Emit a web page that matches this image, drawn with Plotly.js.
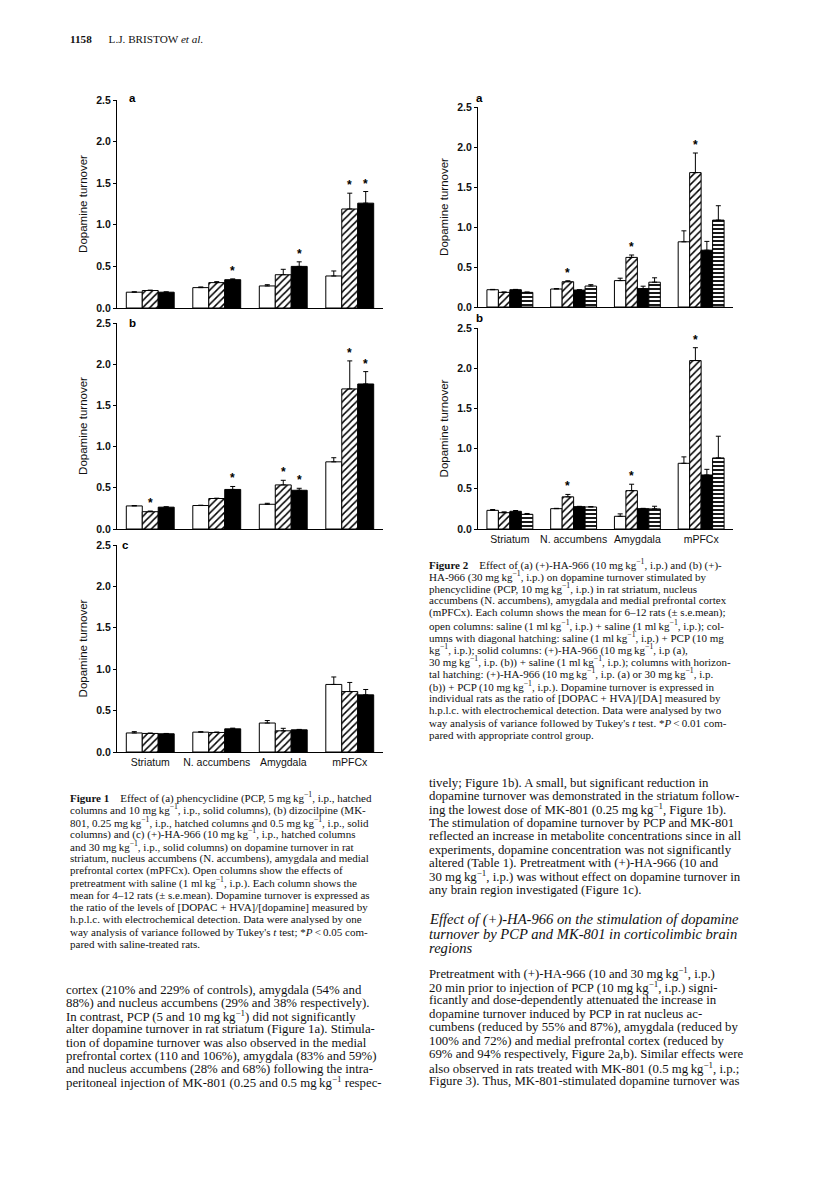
<!DOCTYPE html>
<html>
<head>
<meta charset="utf-8">
<script src="https://cdn.plot.ly/plotly-3.0.1.min.js"></script>
<style>
  html, body { margin: 0; padding: 0; background: #fff; }
  #page { width: 816px; height: 1177px; }
</style>
</head>
<body>
<div id="page"></div>
<script>
// Dopamine turnover — Figures 1 and 2 on one journal page
const regions = ["Striatum", "N. accumbens", "Amygdala", "mPFCx"];
const yTicks = [0, 0.5, 1.0, 1.5, 2.0, 2.5];

// Figure 1a: saline / PCP 5 / PCP 10
const f1aSaline = [0.19, 0.245, 0.265, 0.385];
const f1aSalineErr = [0.005, 0.008, 0.015, 0.06];
const f1aLow = [0.21, 0.305, 0.40, 1.19];
const f1aLowErr = [0.005, 0.012, 0.065, 0.19];
const f1aLowSig = [0, 0, 0, 1];
const f1aHigh = [0.19, 0.34, 0.50, 1.26];
const f1aHighErr = [0.004, 0.01, 0.055, 0.14];
const f1aHighSig = [0, 1, 1, 1];

// Figure 1b: saline / MK-801 0.25 / MK-801 0.5
const f1bSaline = [0.28, 0.285, 0.30, 0.815];
const f1bSalineErr = [0.005, 0.004, 0.012, 0.05];
const f1bLow = [0.21, 0.37, 0.535, 1.70];
const f1bLowErr = [0.008, 0.004, 0.056, 0.34];
const f1bLowSig = [1, 0, 1, 1];
const f1bHigh = [0.265, 0.48, 0.47, 1.76];
const f1bHighErr = [0.005, 0.036, 0.024, 0.15];
const f1bHighSig = [0, 1, 1, 1];

// Figure 1c: saline / (+)-HA-966 10 / 30
const f1cSaline = [0.23, 0.24, 0.35, 0.816];
const f1cSalineErr = [0.016, 0.005, 0.03, 0.09];
const f1cLow = [0.224, 0.236, 0.256, 0.73];
const f1cLowErr = [0.005, 0.005, 0.03, 0.11];
const f1cHigh = [0.22, 0.28, 0.268, 0.69];
const f1cHighErr = [0.004, 0.008, 0.005, 0.065];

// Figure 2a: sal+sal / sal+PCP / HA+sal / HA+PCP  (HA-966 10 mg/kg)
const f2aOpen = [0.216, 0.225, 0.33, 0.815];
const f2aOpenErr = [0.004, 0.005, 0.03, 0.137];
const f2aPcp = [0.183, 0.316, 0.62, 1.68];
const f2aPcpErr = [0.005, 0.012, 0.03, 0.245];
const f2aPcpSig = [0, 1, 1, 1];
const f2aHa = [0.216, 0.212, 0.23, 0.71];
const f2aHaErr = [0.004, 0.004, 0.03, 0.11];
const f2aHaPcp = [0.183, 0.262, 0.31, 1.086];
const f2aHaPcpErr = [0.004, 0.017, 0.055, 0.18];

// Figure 2b: same groups, HA-966 30 mg/kg
const f2bOpen = [0.232, 0.253, 0.158, 0.817];
const f2bOpenErr = [0.01, 0.004, 0.03, 0.08];
const f2bPcp = [0.203, 0.40, 0.477, 2.095];
const f2bPcpErr = [0.01, 0.03, 0.08, 0.16];
const f2bPcpSig = [0, 1, 1, 1];
const f2bHa = [0.22, 0.278, 0.253, 0.672];
const f2bHaErr = [0.01, 0.004, 0.004, 0.07];
const f2bHaPcp = [0.183, 0.274, 0.25, 0.884];
const f2bHaPcpErr = [0.01, 0.004, 0.033, 0.27];

const W = 816, H = 1177;
const BARGAP = 0.28;
const px = x => x / W;
const py = y => 1 - y / H;

const fills = {
  open:  { color: "#fff" },
  diag:  { color: "#fff", pattern: { shape: "/", fgcolor: "#000", bgcolor: "#fff", size: 5, solidity: 0.3 } },
  solid: { color: "#000" },
  horiz: { color: "#fff", pattern: { shape: "-", fgcolor: "#000", bgcolor: "#fff", size: 4, solidity: 0.45 } }
};

const traces = [];
const annotations = [];

function panel(ax, series) {
  const n = series.length;
  const gw = 1 - BARGAP;
  const bw = gw / n;
  series.forEach((s, j) => {
    traces.push({
      type: "bar",
      x: regions.map((_, i) => i),
      y: s.y,
      xaxis: ax === 1 ? "x" : "x" + ax,
      yaxis: ax === 1 ? "y" : "y" + ax,
      marker: Object.assign({ line: { color: "#000", width: 1 } }, fills[s.fill]),
      error_y: {
        type: "data", symmetric: false, array: s.err, arrayminus: s.err.map(() => 0),
        color: "#000", thickness: 1, width: 2.5
      },
      hoverinfo: "none",
      showlegend: false
    });
    if (!s.sig) return;
    const off = -gw / 2 + (j + 0.5) * bw;
    s.sig.forEach((flag, i) => {
      if (!flag) return;
      annotations.push({
        xref: ax === 1 ? "x" : "x" + ax,
        yref: ax === 1 ? "y" : "y" + ax,
        x: i + off, y: s.y[i] + s.err[i],
        text: "*", showarrow: false, yanchor: "bottom", yshift: -1,
        font: { family: "Liberation Sans", size: 12, color: "#000", weight: "bold" }
      });
    });
  });
}

panel(1, [
  { y: f1aSaline, err: f1aSalineErr, fill: "open" },
  { y: f1aLow, err: f1aLowErr, fill: "diag", sig: f1aLowSig },
  { y: f1aHigh, err: f1aHighErr, fill: "solid", sig: f1aHighSig }
]);
panel(2, [
  { y: f1bSaline, err: f1bSalineErr, fill: "open" },
  { y: f1bLow, err: f1bLowErr, fill: "diag", sig: f1bLowSig },
  { y: f1bHigh, err: f1bHighErr, fill: "solid", sig: f1bHighSig }
]);
panel(3, [
  { y: f1cSaline, err: f1cSalineErr, fill: "open" },
  { y: f1cLow, err: f1cLowErr, fill: "diag" },
  { y: f1cHigh, err: f1cHighErr, fill: "solid" }
]);
panel(4, [
  { y: f2aOpen, err: f2aOpenErr, fill: "open" },
  { y: f2aPcp, err: f2aPcpErr, fill: "diag", sig: f2aPcpSig },
  { y: f2aHa, err: f2aHaErr, fill: "solid" },
  { y: f2aHaPcp, err: f2aHaPcpErr, fill: "horiz" }
]);
panel(5, [
  { y: f2bOpen, err: f2bOpenErr, fill: "open" },
  { y: f2bPcp, err: f2bPcpErr, fill: "diag", sig: f2bPcpSig },
  { y: f2bHa, err: f2bHaErr, fill: "solid" },
  { y: f2bHaPcp, err: f2bHaPcpErr, fill: "horiz" }
]);

const tickFont = { family: "Liberation Sans", size: 10.5, color: "#111", weight: "bold" };

function xAxis(x0, x1, labels, anchor) {
  return {
    domain: [px(x0), px(x1)], anchor: anchor, range: [-0.5, 3.5],
    showline: true, linecolor: "#000", linewidth: 1, mirror: false,
    tickvals: [0, 1, 2, 3], ticktext: regions, showticklabels: labels, ticks: "",
    tickfont: { family: "Liberation Sans", size: 10.5, color: "#111" },
    showgrid: false, zeroline: false, fixedrange: true
  };
}
function yAxis(top, bottom, anchor) {
  return {
    domain: [py(bottom), py(top)], anchor: anchor, range: [0, 2.5],
    showline: true, linecolor: "#000", linewidth: 1,
    ticks: "outside", ticklen: 3, tickwidth: 1, tickcolor: "#000",
    tickvals: yTicks, tickformat: ".1f", tickfont: tickFont,
    showgrid: false, zeroline: false, fixedrange: true,
    title: { text: "Dopamine turnover", standoff: 6, font: { family: "Liberation Sans", size: 11.5, color: "#111" } }
  };
}

// panel letters
[["a", 132, 98], ["b", 132, 323], ["c", 125, 545], ["a", 479, 98], ["b", 479, 318]].forEach(([t, x, y]) => {
  annotations.push({
    xref: "paper", yref: "paper", x: px(x), y: py(y), text: t, showarrow: false,
    xanchor: "center", yanchor: "middle",
    font: { family: "Liberation Sans", size: 11.5, color: "#000", weight: "bold" }
  });
});

// running text, one annotation per printed line
function lines(list, x, y0, step, size, italic) {
  list.forEach((t, k) => {
    annotations.push({
      xref: "paper", yref: "paper", x: px(x), y: py(y0 + k * step),
      text: italic ? "<i>" + t + "</i>" : t, showarrow: false,
      xanchor: "left", yanchor: "middle", align: "left",
      font: { family: "Liberation Serif", size: size, color: "#111" }
    });
  });
}

const kg = "mg\u2009kg<sup>\u22121</sup>";
const ml = "ml\u2009kg<sup>\u22121</sup>";

lines(["<b>1158</b>\u2003\u2002L.J. BRISTOW <i>et al.</i>"], 68, 39, 0, 11.2);

lines([
  "<b>Figure 1</b>\u2003Effect of (a) phencyclidine (PCP, 5 " + kg + ", i.p., hatched",
  "columns and 10 " + kg + ", i.p., solid columns), (b) dizocilpine (MK-",
  "801, 0.25 " + kg + ", i.p., hatched columns and 0.5 " + kg + ", i.p., solid",
  "columns) and (c) (+)-HA-966 (10 " + kg + ", i.p., hatched columns",
  "and 30 " + kg + ", i.p., solid columns) on dopamine turnover in rat",
  "striatum, nucleus accumbens (N. accumbens), amygdala and medial",
  "prefrontal cortex (mPFCx). Open columns show the effects of",
  "pretreatment with saline (1 " + ml + ", i.p.). Each column shows the",
  "mean for 4\u201312 rats (\u00b1 s.e.mean). Dopamine turnover is expressed as",
  "the ratio of the levels of [DOPAC + HVA]/[dopamine] measured by",
  "h.p.l.c. with electrochemical detection. Data were analysed by one",
  "way analysis of variance followed by Tukey's <i>t</i> test; *<i>P</i>\u2009<\u20090.05 com-",
  "pared with saline-treated rats."
], 68, 797, 12.25, 11);

lines([
  "cortex (210% and 229% of controls), amygdala (54% and",
  "88%) and nucleus accumbens (29% and 38% respectively).",
  "In contrast, PCP (5 and 10 " + kg + ") did not significantly",
  "alter dopamine turnover in rat striatum (Figure 1a). Stimula-",
  "tion of dopamine turnover was also observed in the medial",
  "prefrontal cortex (110 and 106%), amygdala (83% and 59%)",
  "and nucleus accumbens (28% and 68%) following the intra-",
  "peritoneal injection of MK-801 (0.25 and 0.5 " + kg + " respec-"
], 64, 990, 13.15, 12.8);

lines([
  "<b>Figure 2</b>\u2003Effect of (a) (+)-HA-966 (10 " + kg + ", i.p.) and (b) (+)-",
  "HA-966 (30 " + kg + ", i.p.) on dopamine turnover stimulated by",
  "phencyclidine (PCP, 10 " + kg + ", i.p.) in rat striatum, nucleus",
  "accumbens (N. accumbens), amygdala and medial prefrontal cortex",
  "(mPFCx). Each column shows the mean for 6\u201312 rats (\u00b1 s.e.mean);",
  "open columns: saline (1 " + ml + ", i.p.) + saline (1 " + ml + ", i.p.); col-",
  "umns with diagonal hatching: saline (1 " + ml + ", i.p.) + PCP (10 mg",
  "kg<sup>\u22121</sup>, i.p.); solid columns: (+)-HA-966 (10 " + kg + ", i.p (a),",
  "30 " + kg + ", i.p. (b)) + saline (1 " + ml + ", i.p.); columns with horizon-",
  "tal hatching: (+)-HA-966 (10 " + kg + ", i.p. (a) or 30 " + kg + ", i.p.",
  "(b)) + PCP (10 " + kg + ", i.p.). Dopamine turnover is expressed in",
  "individual rats as the ratio of [DOPAC + HVA]/[DA] measured by",
  "h.p.l.c. with electrochemical detection. Data were analysed by two",
  "way analysis of variance followed by Tukey's <i>t</i> test. *<i>P</i>\u2009<\u20090.01 com-",
  "pared with appropriate control group."
], 427, 564, 12.2, 11);

lines([
  "tively; Figure 1b). A small, but significant reduction in",
  "dopamine turnover was demonstrated in the striatum follow-",
  "ing the lowest dose of MK-801 (0.25 " + kg + ", Figure 1b).",
  "The stimulation of dopamine turnover by PCP and MK-801",
  "reflected an increase in metabolite concentrations since in all",
  "experiments, dopamine concentration was not significantly",
  "altered (Table 1). Pretreatment with (+)-HA-966 (10 and",
  "30 " + kg + ", i.p.) was without effect on dopamine turnover in",
  "any brain region investigated (Figure 1c)."
], 427, 782.5, 13.4, 12.8);

lines([
  "Effect of (+)-HA-966 on the stimulation of dopamine",
  "turnover by PCP and MK-801 in corticolimbic brain",
  "regions"
], 427, 919, 14.5, 14.6, true);

lines([
  "Pretreatment with (+)-HA-966 (10 and 30 " + kg + ", i.p.)",
  "20 min prior to injection of PCP (10 " + kg + ", i.p.) signi-",
  "ficantly and dose-dependently attenuated the increase in",
  "dopamine turnover induced by PCP in rat nucleus ac-",
  "cumbens (reduced by 55% and 87%), amygdala (reduced by",
  "100% and 72%) and medial prefrontal cortex (reduced by",
  "69% and 94% respectively, Figure 2a,b). Similar effects were",
  "also observed in rats treated with MK-801 (0.5 " + kg + ", i.p.;",
  "Figure 3). Thus, MK-801-stimulated dopamine turnover was"
], 427, 973, 13.5, 12.8);

Plotly.newPlot("page", traces, {
  width: W, height: H,
  margin: { t: 0, b: 0, l: 0, r: 0 },
  paper_bgcolor: "#fff", plot_bgcolor: "rgba(0,0,0,0)",
  barmode: "group", bargap: BARGAP, bargroupgap: 0,
  showlegend: false,
  font: { family: "Liberation Sans", color: "#111" },
  xaxis: xAxis(117, 383, false, "y"),
  yaxis: yAxis(100, 308, "x"),
  xaxis2: xAxis(117, 383, false, "y2"),
  yaxis2: yAxis(323, 529, "x2"),
  xaxis3: xAxis(117, 383, true, "y3"),
  yaxis3: yAxis(545, 752, "x3"),
  xaxis4: xAxis(478, 733, false, "y4"),
  yaxis4: yAxis(107, 307, "x4"),
  xaxis5: xAxis(478, 733, true, "y5"),
  yaxis5: yAxis(328, 529, "x5"),
  annotations: annotations
}, { displayModeBar: false, staticPlot: true });
</script>
</body>
</html>
